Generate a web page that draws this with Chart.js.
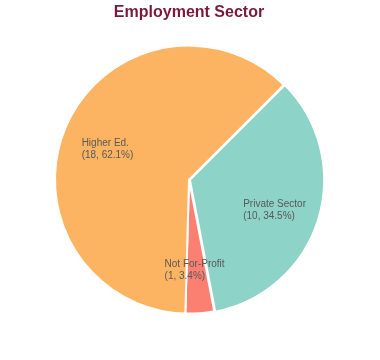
<!DOCTYPE html>
<html>
<head>
<meta charset="utf-8">
<script src="https://cdn.jsdelivr.net/npm/chart.js@4"></script>
<style>
html,body{margin:0;padding:0;background:#fff;}
#wrap{width:380px;height:360px;position:relative;}
</style>
</head>
<body>
<div id="wrap"><canvas id="c" width="380" height="360"></canvas></div>
<script>
const categories = ["Private Sector", "Not For-Profit", "Higher Ed."];
const counts = [10, 1, 18];
const percentLabels = ["34.5%", "3.4%", "62.1%"];
const sliceColors = ["#8DD3C7", "#FB8072", "#FDB462"];
const explode = [4, 0, 0];

const labelPlugin = {
  id: 'sliceLabels',
  afterDatasetsDraw(chart) {
    const ctx = chart.ctx;
    const meta = chart.getDatasetMeta(0);
    ctx.save();
    ctx.font = '10px "Liberation Sans", Arial, sans-serif';
    ctx.fillStyle = '#595959';
    ctx.textBaseline = 'alphabetic';
    ctx.textAlign = 'left';
    meta.data.forEach((arc, i) => {
      const p = arc.getProps(['x','y','startAngle','endAngle','outerRadius'], true);
      const mid = (p.startAngle + p.endAngle) / 2;
      const off = explode[i];
      const r = p.outerRadius * 0.65;
      const cx = p.x + Math.cos(mid) * (r + off) - 1.5;
      const cy = p.y + Math.sin(mid) * (r + off) + 0.5;
      const l1 = categories[i];
      const l2 = '(' + counts[i] + ', ' + percentLabels[i] + ')';
      const w = Math.max(ctx.measureText(l1).width, ctx.measureText(l2).width);
      const left = cx - w / 2;
      ctx.fillText(l1, left, cy);
      ctx.fillText(l2, left, cy + 12);
    });
    ctx.restore();
  }
};

new Chart(document.getElementById('c'), {
  type: 'pie',
  data: {
    labels: categories,
    datasets: [{
      data: counts,
      backgroundColor: sliceColors,
      borderColor: '#ffffff',
      borderWidth: 2,
      offset: explode
    }]
  },
  options: {
    responsive: false,
    animation: false,
    rotation: 45,
    radius: 134,
    layout: { padding: { top: 0, left: 0, right: 2, bottom: 23 } },
    plugins: {
      legend: { display: false },
      tooltip: { enabled: false },
      title: {
        display: true,
        text: 'Employment Sector',
        color: '#7a1a3a',
        font: { family: '"Liberation Sans", Arial, sans-serif', size: 16, weight: 'bold' },
        padding: { top: 3, bottom: 0 }
      }
    },
    events: []
  },
  plugins: [labelPlugin]
});
</script>
</body>
</html>
